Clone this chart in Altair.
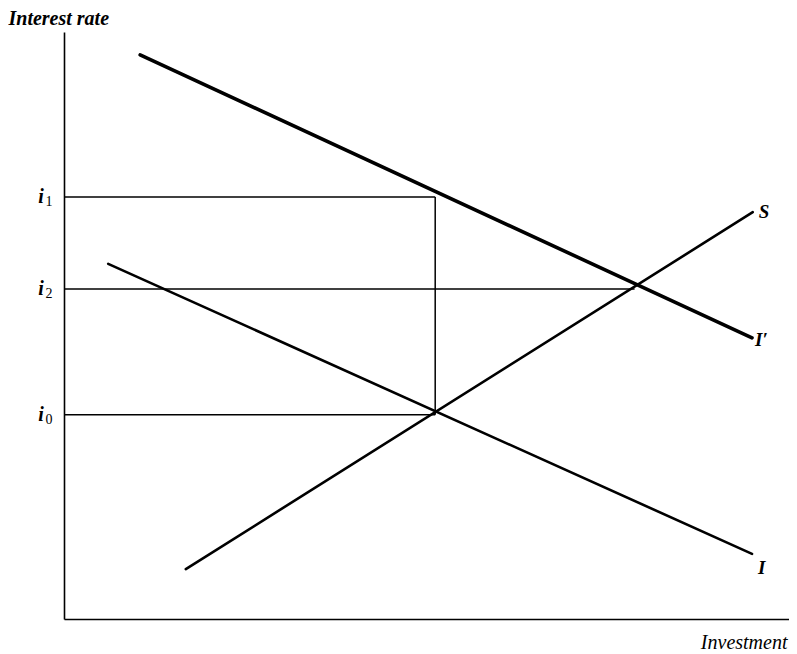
import altair as alt
import pandas as pd

# ---- data (investment, interest rate on a 0-100 scale) ----
curve_names = ["I′", "I", "S"]
curve_x0 = [10.5, 6.1, 16.8]
curve_y0 = [96.1, 60.5, 8.5]
curve_x1 = [94.9, 94.9, 95.0]
curve_y1 = [47.9, 11.1, 69.3]

rate_subscripts = ["1", "2", "0"]
rate_values = [71.9, 56.2, 34.8]
rate_reach = [51.2, 78.7, 51.2]   # investment level where each guide line ends

vertical_x = [51.2]
vertical_y0 = [34.8]
vertical_y1 = [71.9]

curves = pd.DataFrame({"name": curve_names, "x0": curve_x0, "y0": curve_y0,
                       "x1": curve_x1, "y1": curve_y1})
rates = pd.DataFrame({"sub": rate_subscripts, "y": rate_values,
                      "x0": [0.0] * len(rate_values), "x1": rate_reach})
vert = pd.DataFrame({"x": vertical_x, "y0": vertical_y0, "y1": vertical_y1})

FONT = "Liberation Serif"

xs = alt.Scale(domain=[0, 100], nice=False, zero=False)
ys = alt.Scale(domain=[0, 100], nice=False, zero=False)

x_axis = alt.Axis(domain=True, domainColor="black", domainWidth=1.6, ticks=False,
                  labels=False, grid=False, title="Investment", titleFont=FONT,
                  titleFontStyle="italic", titleFontWeight="normal", titleFontSize=20,
                  titleColor="black", titleAlign="right", titleBaseline="alphabetic",
                  titleX=723, titleY=29, titleAngle=0)
y_axis = alt.Axis(domain=True, domainColor="black", domainWidth=1.6, ticks=False,
                  labels=False, grid=False, title="Interest rate", titleFont=FONT,
                  titleFontStyle="italic", titleFontWeight="bold", titleFontSize=20,
                  titleColor="black", titleAlign="left", titleBaseline="alphabetic",
                  titleX=-56, titleY=-8, titleAngle=0)

base_c = alt.Chart(curves)

def curve_rule(name, width):
    return base_c.transform_filter(alt.datum.name == name).mark_rule(
        color="black", strokeWidth=width, strokeCap="round").encode(
        x=alt.X("x0:Q", scale=xs, axis=x_axis),
        y=alt.Y("y0:Q", scale=ys, axis=y_axis),
        x2="x1:Q", y2="y1:Q")

l_iprime = curve_rule("I′", 3.6)
l_i = curve_rule("I", 2.6)
l_s = curve_rule("S", 2.6)

guides = alt.Chart(rates).mark_rule(color="black", strokeWidth=1.5).encode(
    x=alt.X("x0:Q", scale=xs), x2="x1:Q", y=alt.Y("y:Q", scale=ys))

vline = alt.Chart(vert).mark_rule(color="black", strokeWidth=1.5).encode(
    x=alt.X("x:Q", scale=xs), y=alt.Y("y0:Q", scale=ys), y2="y1:Q")

def end_label(name, dx, dy):
    return base_c.transform_filter(alt.datum.name == name).mark_text(
        font=FONT, fontStyle="italic", fontWeight="bold", fontSize=19,
        color="black", align="left", baseline="middle", dx=dx, dy=dy).encode(
        x=alt.X("x1:Q", scale=xs), y=alt.Y("y1:Q", scale=ys), text="name:N")

lab_s = end_label("S", 6, 0)
lab_ip = end_label("I′", 3, 2)
lab_i = end_label("I", 6, 14)

i_main = alt.Chart(rates).mark_text(
    font=FONT, fontStyle="italic", fontWeight="bold", fontSize=20, color="black",
    align="center", baseline="middle").encode(
    x=alt.value(-23), y=alt.Y("y:Q", scale=ys), text=alt.value("i"))
i_sub = alt.Chart(rates).mark_text(
    font=FONT, fontSize=14, color="black", align="center", baseline="middle",
    dy=5).encode(
    x=alt.value(-15), y=alt.Y("y:Q", scale=ys), text="sub:N")

chart = alt.layer(l_iprime, l_i, l_s, guides, vline, lab_s, lab_ip, lab_i,
                  i_main, i_sub).properties(
    width=725, height=587,
    autosize=alt.AutoSizeParams(type="none"),
    padding={"left": 56, "top": 24, "right": 0, "bottom": 32},
    background="white",
).configure_view(stroke=None)

chart.save("out.html", embed_options={"renderer": "svg", "actions": False})
